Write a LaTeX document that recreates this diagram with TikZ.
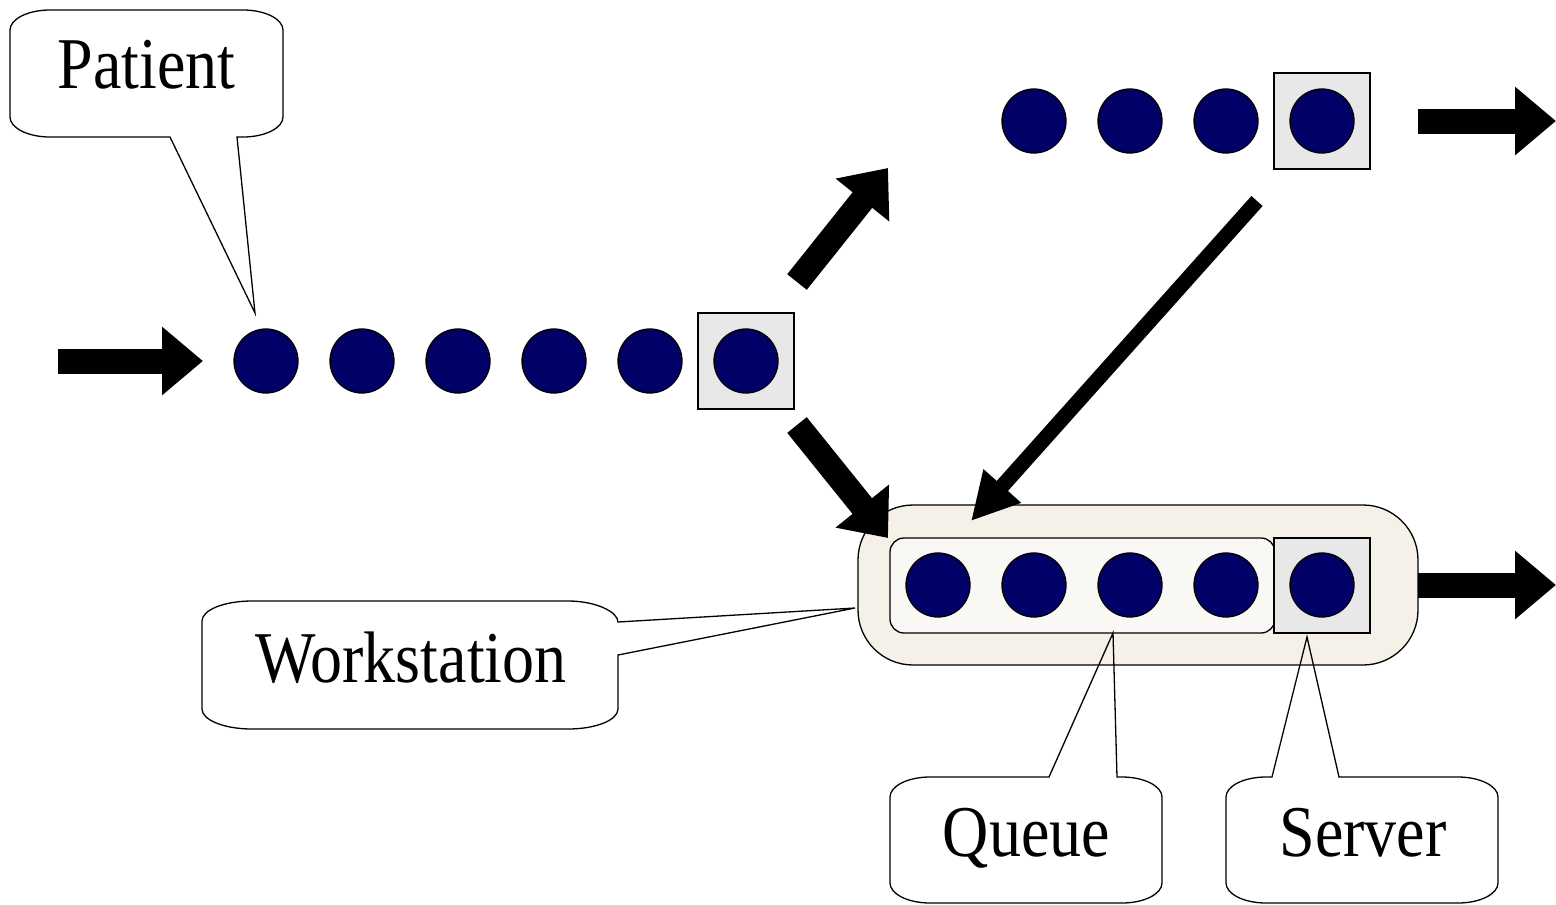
\documentclass[tikz,border=0pt]{standalone}
\usepackage{fontspec}
\usepackage{graphicx}
\setmainfont{Liberation Serif}
\usetikzlibrary{arrows.meta}
\definecolor{navy}{RGB}{0,0,102}
\definecolor{srvgray}{RGB}{232,232,232}
\definecolor{wsfill}{RGB}{245,241,233}
\definecolor{qfill}{RGB}{249,248,245}
\newcommand\lbl[1]{\scalebox{1}[1.14]{#1}}
\begin{document}
\begin{tikzpicture}[x=1pt,y=-1pt,
  patient/.style={circle,draw=black,line width=1.3pt,fill=navy,minimum size=64pt,inner sep=0pt},
  srvbox/.style={rectangle,draw=black,line width=1.3pt,fill=srvgray,minimum width=96pt,minimum height=96pt,inner sep=0pt},
  wsbox/.style={rectangle,rounded corners=55pt,draw=black,line width=1.3pt,fill=wsfill,minimum width=560pt,minimum height=160pt,inner sep=0pt},
  qbox/.style={rectangle,rounded corners=14pt,draw=black,line width=1.3pt,fill=qfill,minimum width=385pt,minimum height=95pt,inner sep=0pt},
  bigarrow/.style={line width=25pt,-{Triangle[width=66pt,length=41pt]}},
  thinarrow/.style={line width=15pt,-{Triangle[width=47pt,length=47pt]}},
  callout/.style={draw=black,line width=1.3pt,line join=miter},
  lbltext/.style={font=\fontsize{64}{64}\selectfont,inner sep=0pt,anchor=base}]
\useasboundingbox (0,0) rectangle (1556,905);

% arrival line with its server
\node[srvbox] (s1) at (746,361) {};
\foreach \i/\x in {1/266,2/362,3/458,4/554,5/650,6/746}
  \node[patient] (a\i) at (\x,361) {};

% upper line with its server
\node[srvbox] (s2) at (1322,121) {};
\foreach \i/\x in {1/1034,2/1130,3/1226,4/1322}
  \node[patient] (b\i) at (\x,121) {};

% workstation: queue and server
\node[wsbox] (ws) at (1138,585) {};
\node[qbox] (queue) at (1082.5,585.5) {};
\node[srvbox,minimum height=95pt] (s3) at (1322,585.5) {};
\foreach \i/\x in {1/938,2/1034,3/1130,4/1226,5/1322}
  \node[patient] (c\i) at (\x,585) {};

% flow arrows
\coordinate (inS) at (58,361);   \coordinate (inE) at (203,361);
\coordinate (upS) at (797,282);  \coordinate (upE) at (888,168);
\coordinate (dnS) at (797,425);  \coordinate (dnE) at (888,538);
\coordinate (o1S) at (1418,121); \coordinate (o1E) at (1556,121);
\coordinate (o2S) at (1418,585); \coordinate (o2E) at (1556,585);
\coordinate (bkS) at (1257,201); \coordinate (bkE) at (971,521);
\draw[bigarrow] (inS) -- (inE);
\draw[bigarrow] (upS) -- (upE);
\draw[bigarrow] (dnS) -- (dnE);
\draw[bigarrow] (o1S) -- (o1E);
\draw[bigarrow] (o2S) -- (o2E);
\draw[thinarrow] (bkS) -- (bkE);

% callouts
\draw[callout] (50,10) -- (243,10) .. controls (265,10) and (283,19) .. (283,30)
  -- (283,117) .. controls (283,128) and (265,137) .. (243,137)
  -- (237,137) -- (255,313) -- (170,137)
  -- (50,137) .. controls (28,137) and (10,128) .. (10,117)
  -- (10,30) .. controls (10,19) and (28,10) .. (50,10) -- cycle;
\node[lbltext] (tpatient) at (146.5,88) {\lbl{Patient}};

\draw[callout] (252,601) -- (568,601) .. controls (596,601) and (618,612) .. (618,622)
  -- (855,608) -- (618,655)
  -- (618,709) .. controls (618,720) and (596,729) .. (568,729)
  -- (252,729) .. controls (224,729) and (202,720) .. (202,709)
  -- (202,621) .. controls (202,610) and (224,601) .. (252,601) -- cycle;
\node[lbltext] (tws) at (411,682) {\lbl{Workstation}};

\draw[callout] (930,777) -- (1049,777) -- (1113,633) -- (1117,777)
  -- (1122,777) .. controls (1144,777) and (1162,786) .. (1162,797)
  -- (1162,883) .. controls (1162,894) and (1144,903) .. (1122,903)
  -- (930,903) .. controls (908,903) and (890,894) .. (890,883)
  -- (890,797) .. controls (890,786) and (908,777) .. (930,777) -- cycle;
\node[lbltext] (tqueue) at (1026.5,856) {\lbl{Queue}};

\draw[callout] (1266,777) -- (1272,777) -- (1307,637) -- (1339,777)
  -- (1458,777) .. controls (1480,777) and (1498,786) .. (1498,797)
  -- (1498,883) .. controls (1498,894) and (1480,903) .. (1458,903)
  -- (1266,903) .. controls (1244,903) and (1226,894) .. (1226,883)
  -- (1226,797) .. controls (1226,786) and (1244,777) .. (1266,777) -- cycle;
\node[lbltext] (tserver) at (1363,856) {\lbl{Server}};
\end{tikzpicture}
\end{document}
